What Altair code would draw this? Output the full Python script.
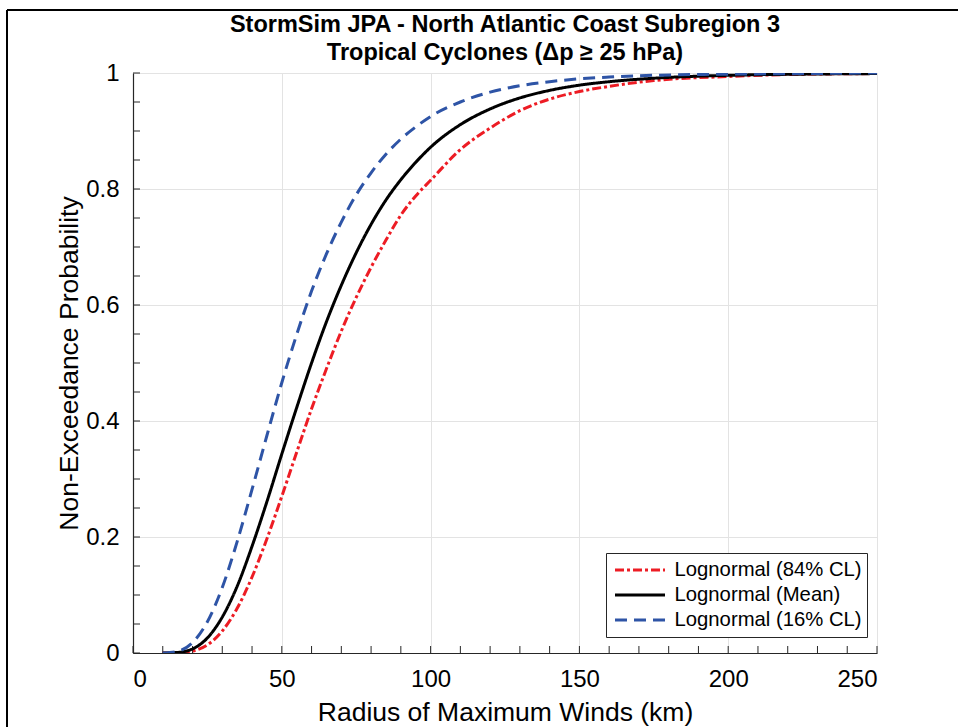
import altair as alt
import pandas as pd

# Radius of maximum winds (km)
radius = [10, 15, 20, 25, 30, 35, 40, 45, 50, 55, 60, 65, 70, 75, 80, 85, 90, 95,
          100, 110, 120, 130, 140, 150, 160, 175, 200, 225, 250]

# Non-exceedance probability
p84 = [0.0, 0.0004, 0.0035, 0.014, 0.038, 0.077, 0.131, 0.197, 0.27, 0.346, 0.421,
       0.49, 0.555, 0.613, 0.665, 0.712, 0.755, 0.788, 0.815, 0.868, 0.905, 0.935,
       0.955, 0.968, 0.977, 0.987, 0.994, 0.998, 0.999]
pmean = [0.0, 0.001, 0.007, 0.026, 0.062, 0.115, 0.184, 0.261, 0.343, 0.423, 0.5,
         0.571, 0.634, 0.69, 0.739, 0.781, 0.816, 0.846, 0.872, 0.911, 0.938, 0.957,
         0.97, 0.979, 0.985, 0.991, 0.996, 0.998, 0.999]
p16 = [0.0, 0.003, 0.018, 0.054, 0.113, 0.192, 0.282, 0.375, 0.466, 0.549, 0.624,
       0.688, 0.743, 0.79, 0.828, 0.86, 0.886, 0.907, 0.925, 0.95, 0.967, 0.978,
       0.985, 0.99, 0.993, 0.996, 0.998, 0.999, 1.0]

series_names = ["Lognormal (84% CL)", "Lognormal (Mean)", "Lognormal (16% CL)"]
series_values = [p84, pmean, p16]
series_colors = ["#ED1C24", "#000000", "#2E54A6"]
series_dash = [[9, 3, 3, 3], [1, 0], [12, 7]]

x_ticks = [0, 50, 100, 150, 200, 250]
y_ticks = [0, 0.2, 0.4, 0.6, 0.8, 1.0]
x_minor = list(range(0, 251, 10))
y_minor = [i / 20 for i in range(0, 21)]

title_line1 = "StormSim JPA - North Atlantic Coast Subregion 3"
title_line2 = "Tropical Cyclones (\u0394p \u2265 25 hPa)"

rows = []
for name, vals in zip(series_names, series_values):
    for i, (x, y) in enumerate(zip(radius, vals)):
        rows.append({"series": name, "r": x, "p": y, "order": i})
df = pd.DataFrame(rows)

W, H = 744, 580
FONT = "Liberation Sans"

xscale = alt.Scale(domain=[0, 250], nice=False)
yscale = alt.Scale(domain=[0, 1], nice=False)

base_axis = dict(grid=True, gridColor="#e3e3e3", gridWidth=1, ticks=False,
                 domainColor="#262626", domainWidth=1.2, labelFont=FONT,
                 labelFontSize=24, labelColor="#000000", titleFont=FONT,
                 titleFontSize=26.5, titleFontWeight="normal", titleColor="#000000")

lines = alt.Chart(df).mark_line(strokeWidth=3, interpolate="monotone", clip=True).encode(
    x=alt.X("r:Q", scale=xscale,
            axis=alt.Axis(values=x_ticks, title="Radius of Maximum Winds (km)",
                          labelPadding=14, titlePadding=8, **base_axis)),
    y=alt.Y("p:Q", scale=yscale,
            axis=alt.Axis(values=y_ticks, format=".1~f", title="Non-Exceedance Probability",
                          labelPadding=14, titlePadding=2, **base_axis)),
    color=alt.Color("series:N",
                    scale=alt.Scale(domain=series_names, range=series_colors),
                    legend=alt.Legend(title=None, orient="none", legendX=473, legendY=480,
                                      symbolType="stroke", symbolSize=2500,
                                      symbolStrokeWidth=3, symbolOffset=2.5,
                                      clipHeight=24, labelFont=FONT, labelLimit=400,
                                      labelFontSize=20.3, labelColor="#000000",
                                      strokeColor="#262626", fillColor="#ffffff",
                                      padding=5, rowPadding=1, labelOffset=8)),
    strokeDash=alt.StrokeDash("series:N",
                              scale=alt.Scale(domain=series_names, range=series_dash),
                              legend=None),
    order=alt.Order("order:Q"),
    detail="series:N",
)

xt = pd.DataFrame({"v": x_minor})
yt = pd.DataFrame({"v": y_minor})
xticks = alt.Chart(xt).mark_rule(color="#262626", strokeWidth=1).encode(
    x=alt.X("v:Q", scale=xscale), y=alt.value(H), y2=alt.value(H - 7))
yticks = alt.Chart(yt).mark_rule(color="#262626", strokeWidth=1).encode(
    y=alt.Y("v:Q", scale=yscale), x=alt.value(0), x2=alt.value(7))

one = pd.DataFrame({"a": [0]})
border_left = alt.Chart(one).mark_rule(color="#000000", strokeWidth=2).encode(
    x=alt.value(-126), y=alt.value(-63), y2=alt.value(H + 80))
border_top = alt.Chart(one).mark_rule(color="#000000", strokeWidth=2).encode(
    x=alt.value(-126), x2=alt.value(W + 90), y=alt.value(-63))

title1 = alt.Chart(one).mark_text(font=FONT, fontSize=23.5, fontWeight="bold", color="#000000",
                                  align="center", baseline="middle").encode(
    x=alt.value(W / 2), y=alt.value(-48), text=alt.value(title_line1))
title2 = alt.Chart(one).mark_text(font=FONT, fontSize=23.5, fontWeight="bold", color="#000000",
                                  align="center", baseline="middle").encode(
    x=alt.value(W / 2), y=alt.value(-20), text=alt.value(title_line2))

chart = alt.layer(xticks, yticks, lines, border_left, border_top, title1, title2).properties(
    width=W, height=H,
    autosize=alt.AutoSizeParams(type="none"),
    padding={"left": 133, "top": 73, "right": 81, "bottom": 74},
).resolve_scale(color="shared", strokeDash="shared").configure_view(stroke=None).configure(background="#ffffff")

chart.save("out.html", embed_options={"renderer": "svg", "actions": False})
